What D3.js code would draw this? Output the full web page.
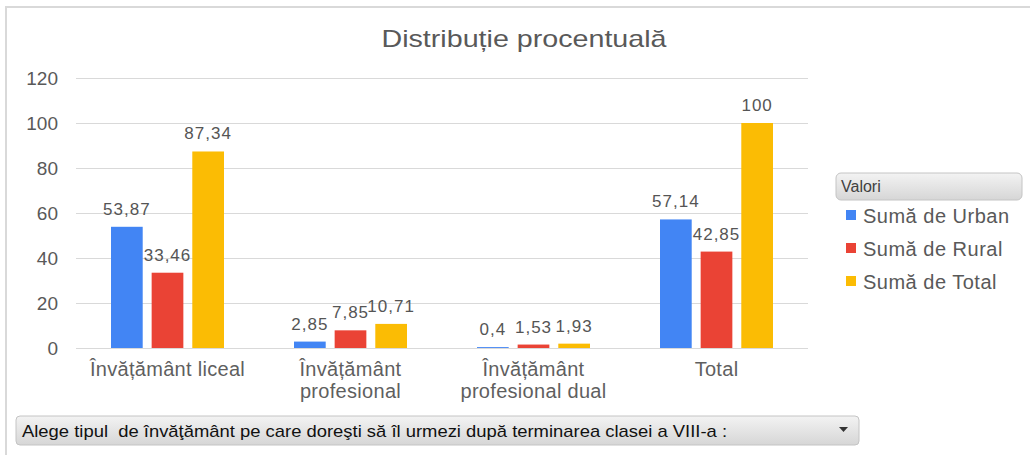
<!DOCTYPE html>
<html>
<head>
<meta charset="utf-8">
<script src="https://cdn.jsdelivr.net/npm/d3@7"></script>
<style>
    body { margin: 0; background: #fff; }
    text { font-family: "Liberation Sans", Arial, sans-serif; }
</style>
</head>
<body>
<div id="chart"></div>
<script>
// chart values
var categories = ["liceal", "profesional", "dual", "total"];
var categoryLabels = [
    ["Învățământ liceal"],
    ["Învățământ", "profesional"],
    ["Învățământ", "profesional dual"],
    ["Total"]
];
var seriesNames = ["Sumă de Urban", "Sumă de Rural", "Sumă de Total"];
var urban = [53.87, 2.85, 0.4, 57.14];
var rural = [33.46, 7.85, 1.53, 42.85];
var total = [87.34, 10.71, 1.93, 100];
var yTicks = [0, 20, 40, 60, 80, 100, 120];
var colors = ["#4285F4", "#EA4335", "#FBBC04"];

var width = 1030, height = 455;
var plot = { left: 76, right: 808, top: 78, bottom: 348 };
var groupWidth = 113;

var svg = d3.select("#chart").append("svg")
    .attr("width", width)
    .attr("height", height);

var defs = svg.append("defs");
var grad = defs.append("linearGradient")
    .attr("id", "boxGrad")
    .attr("x1", 0).attr("y1", 0).attr("x2", 0).attr("y2", 1);
grad.append("stop").attr("offset", "0%").attr("stop-color", "#f3f3f3");
grad.append("stop").attr("offset", "100%").attr("stop-color", "#d6d6d6");

// frame
svg.append("line")
    .attr("x1", 6).attr("x2", width).attr("y1", 7).attr("y2", 7)
    .attr("stroke", "#d9d9d9").attr("stroke-width", 2);
svg.append("line")
    .attr("x1", 6).attr("x2", 6).attr("y1", 6).attr("y2", height)
    .attr("stroke", "#d9d9d9").attr("stroke-width", 2);

// title
svg.append("text")
    .attr("x", 524)
    .attr("y", 47)
    .attr("text-anchor", "middle")
    .attr("textLength", 285)
    .attr("lengthAdjust", "spacingAndGlyphs")
    .style("font-size", "24px")
    .style("fill", "#595959")
    .text("Distribuție procentuală");

var x0 = d3.scaleBand()
    .domain(categories)
    .range([plot.left, plot.right]);

var x1 = d3.scaleBand()
    .domain(seriesNames)
    .range([(x0.bandwidth() - groupWidth) / 2, (x0.bandwidth() + groupWidth) / 2])
    .paddingInner(0.22);

var y = d3.scaleLinear()
    .domain([0, 120])
    .range([plot.bottom, plot.top]);

// y axis with gridlines
var yAxis = svg.append("g")
    .attr("transform", "translate(" + plot.left + ",0)")
    .call(d3.axisLeft(y)
        .tickValues(yTicks)
        .tickSizeInner(-(plot.right - plot.left))
        .tickSizeOuter(0)
        .tickPadding(18));
yAxis.select(".domain").remove();
yAxis.selectAll(".tick line").attr("stroke", "#d9d9d9");
yAxis.selectAll(".tick text")
    .style("font-size", "19px")
    .style("font-family", "Liberation Sans, Arial, sans-serif")
    .style("fill", "#595959");

// bars
var rows = categories.map(function (c, i) {
    return {
        cat: c,
        values: [urban[i], rural[i], total[i]].map(function (v, j) {
            return { series: seriesNames[j], value: v, color: colors[j] };
        })
    };
});

var groups = svg.selectAll(".group")
    .data(rows)
    .enter().append("g")
    .attr("class", "group")
    .attr("transform", function (d) { return "translate(" + x0(d.cat) + ",0)"; });

groups.selectAll("rect")
    .data(function (d) { return d.values; })
    .enter().append("rect")
    .attr("x", function (d) { return x1(d.series); })
    .attr("y", function (d) { return y(d.value); })
    .attr("width", x1.bandwidth())
    .attr("height", function (d) { return y(0) - y(d.value); })
    .style("fill", function (d) { return d.color; });

groups.selectAll(".val")
    .data(function (d) { return d.values; })
    .enter().append("text")
    .attr("class", "val")
    .attr("x", function (d) { return x1(d.series) + x1.bandwidth() / 2; })
    .attr("y", function (d) { return y(d.value) - 12; })
    .attr("text-anchor", "middle")
    .style("font-size", "17px")
    .style("letter-spacing", "1px")
    .style("fill", "#555")
    .text(function (d) { return String(d.value).replace(".", ","); });

// category labels
var cats = svg.selectAll(".cat")
    .data(categories)
    .enter().append("text")
    .attr("class", "cat")
    .attr("text-anchor", "middle")
    .attr("x", function (d) { return x0(d) + x0.bandwidth() / 2; })
    .attr("y", 376)
    .style("font-size", "20px")
    .style("letter-spacing", "0.3px")
    .style("fill", "#5f5f5f");
cats.selectAll("tspan")
    .data(function (d, i) { return categoryLabels[i]; })
    .enter().append("tspan")
    .attr("x", function () { return d3.select(this.parentNode).attr("x"); })
    .attr("dy", function (d, i) { return i === 0 ? 0 : 22; })
    .text(function (d) { return d; });

// legend
var legend = svg.append("g");
legend.append("rect")
    .attr("x", 836).attr("y", 173)
    .attr("width", 186).attr("height", 27)
    .attr("rx", 5)
    .style("fill", "url(#boxGrad)")
    .style("stroke", "#c4c4c4");
legend.append("text")
    .attr("x", 841).attr("y", 192)
    .style("font-size", "16px")
    .style("fill", "#404040")
    .text("Valori");

var items = legend.selectAll(".item")
    .data(seriesNames)
    .enter().append("g")
    .attr("class", "item")
    .attr("transform", function (d, i) { return "translate(846," + (210 + i * 33) + ")"; });
items.append("rect")
    .attr("width", 10).attr("height", 10)
    .style("fill", function (d, i) { return colors[i]; });
items.append("text")
    .attr("x", 17).attr("y", 13)
    .style("font-size", "20px")
    .style("letter-spacing", "0.5px")
    .style("fill", "#595959")
    .text(function (d) { return d; });

// filter dropdown at the bottom
var drop = svg.append("g");
drop.append("rect")
    .attr("x", 16).attr("y", 416)
    .attr("width", 843).attr("height", 29)
    .attr("rx", 4)
    .style("fill", "url(#boxGrad)")
    .style("stroke", "#c4c4c4");
drop.append("text")
    .attr("x", 22).attr("y", 437)
    .attr("textLength", 705)
    .attr("lengthAdjust", "spacingAndGlyphs")
    .style("white-space", "pre")
    .style("font-family", "Liberation Sans, Arial, sans-serif")
    .style("font-size", "17px")
    .style("fill", "#111")
    .text("Alege tipul  de învăţământ pe care doreşti să îl urmezi după terminarea clasei a VIII-a :");
drop.append("path")
    .attr("d", "M839,427 L848,427 L843.5,432 Z")
    .style("fill", "#333");
</script>
</body>
</html>
